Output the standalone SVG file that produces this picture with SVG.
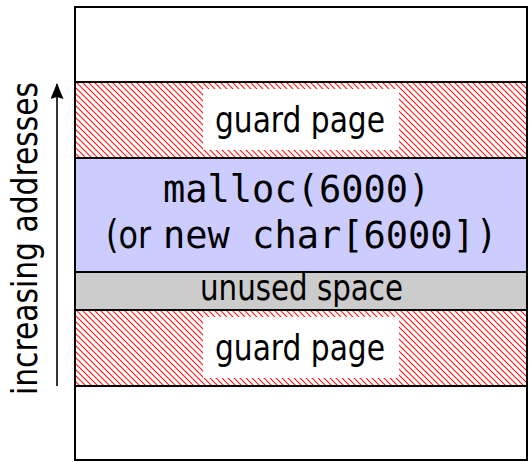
<svg xmlns="http://www.w3.org/2000/svg" width="529" height="462" viewBox="0 0 529 462">
  <style>
    .band { stroke: #000; stroke-width: 2; }
    .sans { font-family: "DejaVu Sans", "Liberation Sans", sans-serif; font-size: 35px; fill: #000; }
    .paren { font-family: "DejaVu Sans", "Liberation Sans", sans-serif; font-size: 39px; fill: #000; }
    .mono { font-family: "DejaVu Sans Mono", "Liberation Mono", monospace; font-size: 37px; fill: #000; }
  </style>
  <defs>
    <!-- diagonal red hatching for guard pages -->
    <pattern id="hatch" width="6" height="6" patternUnits="userSpaceOnUse">
      <path d="M-1,-1 L7,7 M-1,5 L1,7 M5,-1 L7,1" stroke="#ff1a1a" stroke-width="1.2"/>
    </pattern>
    <marker id="arrow" markerWidth="16" markerHeight="14" refX="15" refY="6.5" orient="auto" markerUnits="userSpaceOnUse">
      <path d="M0,0 L16,6.5 L0,13 L2,6.5 Z" fill="#000"/>
    </marker>
  </defs>

  <!-- address direction axis -->
  <g id="axis">
    <line x1="57" y1="386" x2="57" y2="84" stroke="#000" stroke-width="1.6" marker-end="url(#arrow)"/>
    <text class="sans" transform="translate(37,395) rotate(-90)" textLength="313" lengthAdjust="spacingAndGlyphs">increasing addresses</text>
  </g>

  <g id="top-free">
    <rect class="band" x="75" y="7" width="452" height="75" fill="#fff"/>
  </g>

  <g id="guard-upper">
    <rect class="band" x="75" y="82" width="452" height="76" fill="url(#hatch)"/>
    <rect x="203" y="89" width="196" height="61" fill="#fff"/>
    <text class="sans" x="215" y="132" textLength="170" lengthAdjust="spacingAndGlyphs">guard page</text>
  </g>

  <g id="allocation">
    <rect class="band" x="75" y="158" width="452" height="114" fill="#ccccff"/>
    <text class="mono" x="163" y="202">malloc(6000)</text>
    <text y="248"><tspan class="paren" x="106" textLength="45" lengthAdjust="spacingAndGlyphs">(or</tspan><tspan class="mono" x="163">new char[6000]</tspan><tspan class="paren" x="479" textLength="14" lengthAdjust="spacingAndGlyphs">)</tspan></text>
  </g>

  <g id="unused">
    <rect class="band" x="75" y="272" width="452" height="38" fill="#cccccc"/>
    <text class="sans" x="200" y="300" textLength="203" lengthAdjust="spacingAndGlyphs">unused space</text>
  </g>

  <g id="guard-lower">
    <rect class="band" x="75" y="310" width="452" height="76" fill="url(#hatch)"/>
    <rect x="203" y="317" width="196" height="61" fill="#fff"/>
    <text class="sans" x="215" y="360" textLength="170" lengthAdjust="spacingAndGlyphs">guard page</text>
  </g>

  <g id="bottom-free">
    <rect class="band" x="75" y="386" width="452" height="74" fill="#fff"/>
  </g>
</svg>
